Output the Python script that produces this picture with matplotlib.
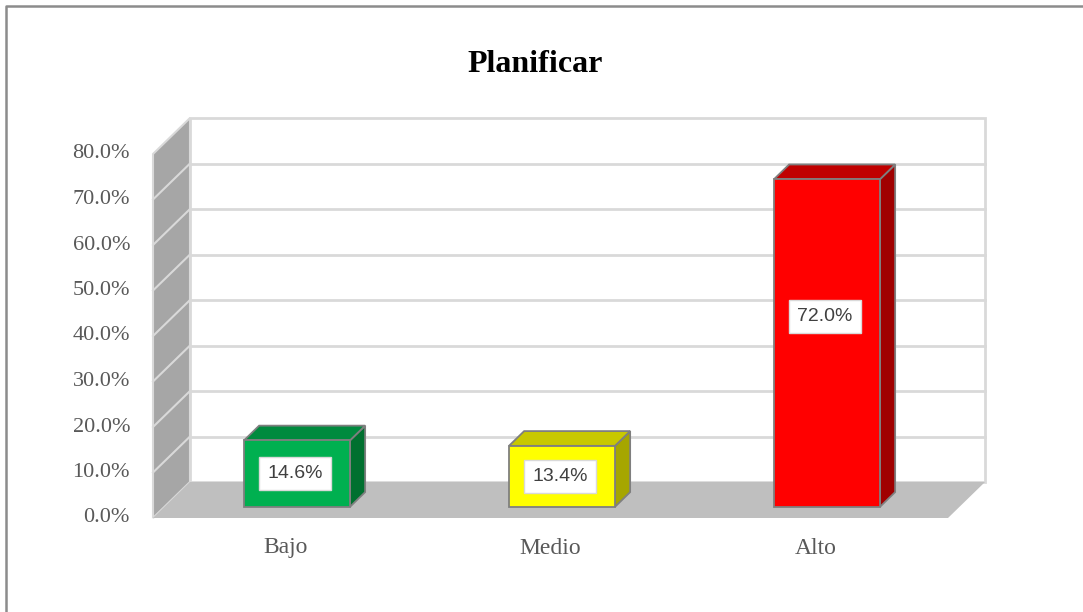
import matplotlib
matplotlib.use("Agg")
import matplotlib.pyplot as plt
from matplotlib.patches import Polygon
from matplotlib.lines import Line2D

# ---- data ----
categories = ["Bajo", "Medio", "Alto"]
values = [14.6, 13.4, 72.0]
value_labels = ["14.6%", "13.4%", "72.0%"]
y_ticks = [0, 10, 20, 30, 40, 50, 60, 70, 80]
y_tick_labels = ["0.0%", "10.0%", "20.0%", "30.0%", "40.0%", "50.0%", "60.0%", "70.0%", "80.0%"]
title = "Planificar"

# ---- style / layout ----
front_colors = ["#00b050", "#ffff00", "#ff0000"]
top_colors = ["#008a3e", "#c8c800", "#c00000"]
side_colors = ["#00702f", "#a6a600", "#a00000"]
label_frac = [0.5, 0.5, 0.58]   # vertical position of data label within bar front face

W, H, DPI = 1083, 612, 100
fig = plt.figure(figsize=(W / DPI, H / DPI), dpi=DPI)
fig.patch.set_facecolor("white")

# axes = front plane of the 3D box
ax = fig.add_axes([153 / W, 94 / H, 795 / W, 364 / H])
ax.set_xlim(-0.5, len(categories) - 0.5)
ax.set_ylim(0, 80)
ax.axis("off")

# depth vector (pixels) converted to data units
fig.canvas.draw()
px_per_x = ax.bbox.width / (len(categories))
px_per_y = ax.bbox.height / 80.0
DX = 37 / px_per_x
DY = 36 / px_per_y

x0, x1 = -0.5, len(categories) - 0.5
ymax = 80
grid_c = "#d9d9d9"

def poly(pts, fc, ec, lw, z):
    p = Polygon(pts, closed=True, facecolor=fc, edgecolor=ec, linewidth=lw,
                clip_on=False, zorder=z, joinstyle="miter")
    ax.add_patch(p)

# left wall
poly([(x0, 0), (x0 + DX, DY), (x0 + DX, ymax + DY), (x0, ymax)], "#a6a6a6", grid_c, 1.5, 1)
# back wall
poly([(x0 + DX, DY), (x1 + DX, DY), (x1 + DX, ymax + DY), (x0 + DX, ymax + DY)], "white", grid_c, 2.0, 1)
# floor
poly([(x0, 0), (x1, 0), (x1 + DX, DY), (x0 + DX, DY)], "#bfbfbf", "none", 0, 2)

# gridlines
for v in y_ticks[1:-1]:
    ax.add_line(Line2D([x0 + DX, x1 + DX], [v + DY, v + DY], color=grid_c, lw=2.0,
                       clip_on=False, zorder=2))
    ax.add_line(Line2D([x0, x0 + DX], [v, v + DY], color=grid_c, lw=1.5,
                       clip_on=False, zorder=2))

# bars
z0, z1 = 0.31, 0.72
bw = 0.40
ec = "#7f7f7f"
for i, v in enumerate(values):
    xl = i - bw / 2
    xr = i + bw / 2
    # side face
    poly([(xr + z0 * DX, z0 * DY), (xr + z1 * DX, z1 * DY),
          (xr + z1 * DX, v + z1 * DY), (xr + z0 * DX, v + z0 * DY)],
         side_colors[i], ec, 1.3, 3)
    # top face
    poly([(xl + z0 * DX, v + z0 * DY), (xr + z0 * DX, v + z0 * DY),
          (xr + z1 * DX, v + z1 * DY), (xl + z1 * DX, v + z1 * DY)],
         top_colors[i], ec, 1.3, 3)
    # front face
    poly([(xl + z0 * DX, z0 * DY), (xr + z0 * DX, z0 * DY),
          (xr + z0 * DX, v + z0 * DY), (xl + z0 * DX, v + z0 * DY)],
         front_colors[i], ec, 1.3, 4)
    # data label
    ax.text(i + z0 * DX - 0.008, z0 * DY + v * label_frac[i], value_labels[i],
            ha="center", va="center", fontsize=14, color="#404040",
            family=["Liberation Sans", "DejaVu Sans"], zorder=6,
            bbox=dict(boxstyle="square,pad=0.42", facecolor="white",
                      edgecolor="#d9d9d9", linewidth=1.0))

# y tick labels
for v, lab in zip(y_ticks, y_tick_labels):
    ax.annotate(lab, xy=(x0, v), xytext=(-23 * 72 / DPI, 0), textcoords="offset points",
                ha="right", va="center", fontsize=16, color="#595959",
                family=["Liberation Serif", "DejaVu Serif"], annotation_clip=False)

# category labels
for i, c in enumerate(categories):
    ax.annotate(c, xy=(i, 0), xytext=(0, -30 * 72 / DPI), textcoords="offset points",
                ha="center", va="center", fontsize=17, color="#595959",
                family=["Liberation Serif", "DejaVu Serif"], annotation_clip=False)

# title
fig.text(535 / W, 1 - 72 / H, title, ha="center", va="baseline", fontsize=23,
         fontweight="bold", color="black", family=["Liberation Serif", "DejaVu Serif"])

# outer border (top and left visible)
fig.add_artist(Line2D([6 / W, 6 / W, 1.0], [0.0, 1 - 6 / H, 1 - 6 / H],
                      transform=fig.transFigure, color="#8c8c8c", lw=1.8))

fig.savefig("out.png", dpi=DPI, facecolor="white")
